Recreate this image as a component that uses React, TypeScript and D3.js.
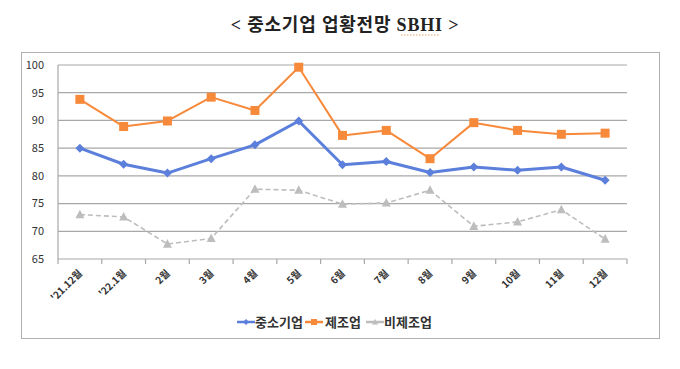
import React from "react";
import * as d3 from "d3";

const categories = ["'21.12월", "'22.1월", "2월", "3월", "4월", "5월", "6월", "7월", "8월", "9월", "10월", "11월", "12월"];
const smeValues = [85.0, 82.1, 80.5, 83.1, 85.6, 89.9, 82.0, 82.6, 80.6, 81.6, 81.0, 81.6, 79.2];
const mfgValues = [93.8, 88.9, 89.9, 94.2, 91.8, 99.6, 87.3, 88.2, 83.1, 89.6, 88.2, 87.5, 87.7];
const nonMfgValues = [73.0, 72.6, 67.7, 68.7, 77.6, 77.4, 74.9, 75.1, 77.4, 70.9, 71.7, 73.9, 68.6];
const yTicks = [65, 70, 75, 80, 85, 90, 95, 100];
const seriesNames = ["중소기업", "제조업", "비제조업"];

const W = 680;
const H = 369;
const KR = "'Noto Sans CJK KR', 'Noto Sans', sans-serif";

const series = [
  { name: seriesNames[0], values: smeValues, color: "#5b7fdb", width: 3, dash: null, marker: "diamond" },
  { name: seriesNames[1], values: mfgValues, color: "#f7893b", width: 2, dash: null, marker: "square" },
  { name: seriesNames[2], values: nonMfgValues, color: "#bdbdbd", width: 1.6, dash: "5,3", marker: "triangle" },
];

function Marker({ type, x, y, color, s }: { type: string; x: number; y: number; color: string; s: number }) {
  if (type === "diamond") {
    const p = d3.path();
    p.moveTo(x, y - s);
    p.lineTo(x + s, y);
    p.lineTo(x, y + s);
    p.lineTo(x - s, y);
    p.closePath();
    return <path d={p.toString()} fill={color} />;
  }
  if (type === "square") {
    return <rect x={x - s} y={y - s} width={s * 2} height={s * 2} fill={color} />;
  }
  const p = d3.path();
  p.moveTo(x, y - s * 1.1);
  p.lineTo(x + s, y + s * 0.8);
  p.lineTo(x - s, y + s * 0.8);
  p.closePath();
  return <path d={p.toString()} fill={color} />;
}

export default function App() {
  const x = d3.scaleBand<string>().domain(categories).range([58, 627]);
  const y = d3.scaleLinear().domain([65, 100]).range([259, 65]);
  const cx = (c: string) => (x(c) as number) + x.bandwidth() / 2;

  const line = d3
    .line<number>()
    .x((_, i) => cx(categories[i]))
    .y((d) => y(d));

  const boundaries = categories.map((c) => x(c) as number).concat([627]);

  const legendItems = [
    { x: 237, textX: 255 },
    { x: 305, textX: 325 },
    { x: 366, textX: 384 },
  ];

  return (
    <svg width={W} height={H} style={{ position: "absolute", left: 0, top: 0 }}>
      <rect width={W} height={H} fill="#fff" />
      <text x={345} y={31} textAnchor="middle" fontSize={18} letterSpacing={0.8} fontWeight="bold" fill="#222"
        fontFamily={"'Liberation Serif', 'Noto Sans CJK KR', serif"}>
        {"< 중소기업 업황전망 SBHI >"}
      </text>
      <line x1={401} x2={439} y1={35} y2={35} stroke="#e8a060" strokeWidth={1} strokeDasharray="1.5,1.5" />

      <rect x={21.5} y={52.5} width={638} height={286} fill="none" stroke="#b0b0b0" strokeWidth={1} />

      {yTicks.map((t) => (
        <g key={t}>
          <line x1={58} x2={627} y1={y(t)} y2={y(t)} stroke="#a8a8a8" strokeWidth={1.2} />
          <text x={44} y={y(t)} dy="0.35em" textAnchor="end" fontSize={11} fill="#333" fontFamily={KR}>
            {t}
          </text>
        </g>
      ))}
      <line x1={58} x2={58} y1={y(100)} y2={y(65)} stroke="#a8a8a8" strokeWidth={1.2} />
      {boundaries.map((b, i) => (
        <line key={i} x1={b} x2={b} y1={y(65)} y2={y(65) + 5} stroke="#a8a8a8" strokeWidth={1.2} />
      ))}
      {categories.map((c) => (
        <text key={c} transform={`translate(${cx(c) + 3},${y(65) + 15}) rotate(-45)`} textAnchor="end"
          fontSize={10} fontWeight="bold" fill="#333" fontFamily={KR}>
          {c}
        </text>
      ))}

      {series.map((s) => (
        <g key={s.name}>
          <path d={line(s.values) as string} fill="none" stroke={s.color} strokeWidth={s.width}
            strokeDasharray={s.dash || undefined} strokeLinejoin="round" />
          {s.values.map((v, i) => (
            <Marker key={i} type={s.marker} x={cx(categories[i])} y={y(v)} color={s.color} s={4.5} />
          ))}
        </g>
      ))}

      {series.map((s, i) => (
        <g key={s.name}>
          <line x1={legendItems[i].x} x2={legendItems[i].x + 18} y1={322} y2={322} stroke={s.color} strokeWidth={2.5} />
          <Marker type={s.marker} x={legendItems[i].x + 9} y={322} color={s.color} s={3} />
          <text x={legendItems[i].textX} y={322} dy="0.35em" fontSize={13} fontWeight="bold" fill="#333" fontFamily={KR}>
            {s.name}
          </text>
        </g>
      ))}
    </svg>
  );
}
